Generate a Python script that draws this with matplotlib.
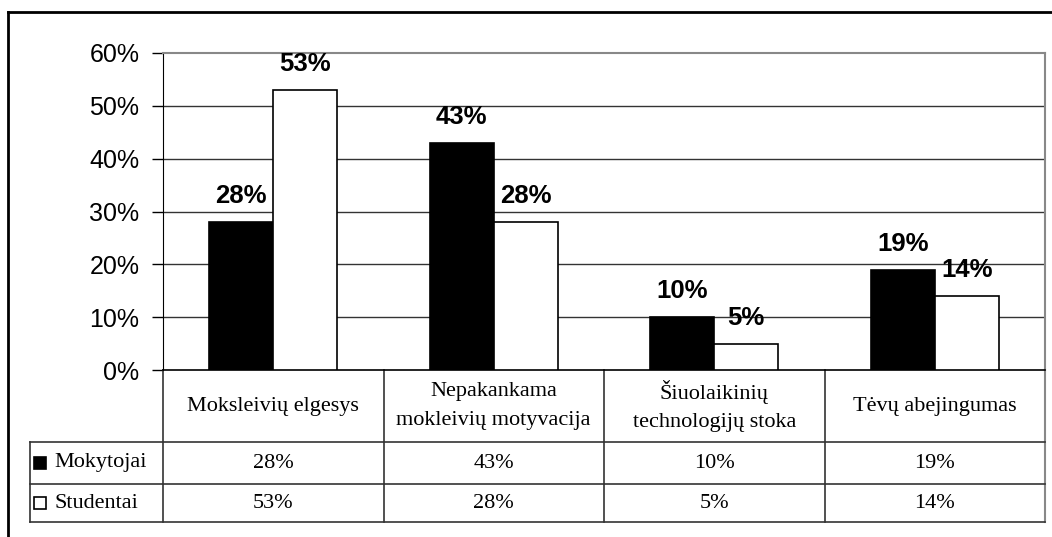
import numpy as np
import matplotlib
matplotlib.use("Agg")
import matplotlib.pyplot as plt
from matplotlib.lines import Line2D
from matplotlib.transforms import blended_transform_factory

# ---- data ----
categories = ["Moksleivių elgesys", "Nepakankama\nmokleivių motyvacija",
              "Šiuolaikinių\ntechnologijų stoka", "Tėvų abejingumas"]
series_names = ["Mokytojai", "Studentai"]
mokytojai = [28, 43, 10, 19]
studentai = [53, 28, 5, 14]
yticks = [0, 10, 20, 30, 40, 50, 60]

W, H = 1052, 537
fig = plt.figure(figsize=(W / 100, H / 100), dpi=100)

def fx(px):
    return px / W

def fy(py):
    return 1 - py / H

# plot area in pixels
L, R, T, B = 163, 1045, 53, 370
ax = fig.add_axes([fx(L), fy(B), fx(R) - fx(L), fy(T) - fy(B)])

x = np.arange(len(categories))
bw = 0.29
b1 = ax.bar(x - bw / 2, mokytojai, bw, color="black", edgecolor="black", lw=1.2, zorder=3)
b2 = ax.bar(x + bw / 2, studentai, bw, color="white", edgecolor="black", lw=1.2, zorder=3)
for bars in (b1, b2):
    ax.bar_label(bars, labels=["%d%%" % v for v in bars.datavalues], padding=10,
                 fontsize=18.5, fontweight="bold", family="Liberation Sans")

ax.set_xlim(-0.5, len(categories) - 0.5)
ax.set_ylim(0, 60)
ax.set_yticks(yticks)
ax.set_yticklabels(["%d%%" % v for v in yticks], fontsize=18, family="Liberation Sans")
ax.set_xticks([])
ax.tick_params(axis="y", length=8, width=1, pad=9, direction="out")
for v in yticks[1:-1]:
    ax.axhline(v, color="#333333", lw=1, zorder=1)
for s in ["top", "right"]:
    ax.spines[s].set_color("#888888")
    ax.spines[s].set_linewidth(1.5)
ax.spines["left"].set_color("black")
ax.spines["bottom"].set_color("black")
ax.spines["bottom"].set_linewidth(1.2)

# ---- data table under the plot ----
tr = blended_transform_factory(ax.transData, fig.transFigure)
px_per_unit = (R - L) / len(categories)
lab_left = -0.5 - (L - 30) / px_per_unit
rows_y = [370, 442, 484, 522]
line_kw = dict(color="#333333", lw=1.2, transform=tr, clip_on=False)

for i in range(len(categories) + 1):
    xb = i - 0.5
    c = "#888888" if i == len(categories) else "#333333"
    lw = 1.5 if i == len(categories) else 1.2
    ax.add_line(Line2D([xb, xb], [fy(rows_y[0]), fy(rows_y[-1])], color=c, lw=lw,
                       transform=tr, clip_on=False))
ax.add_line(Line2D([lab_left, lab_left], [fy(rows_y[1]), fy(rows_y[-1])], **line_kw))
for yy in rows_y[1:]:
    ax.add_line(Line2D([lab_left, len(categories) - 0.5], [fy(yy), fy(yy)], **line_kw))

serif = "Liberation Serif"
for i, cat in enumerate(categories):
    ax.text(i, fy((rows_y[0] + rows_y[1]) / 2), cat, transform=tr, ha="center", va="center",
            fontsize=16, family=serif, linespacing=1.65)
for r, (name, vals, fc) in enumerate(zip(series_names, [mokytojai, studentai], ["black", "white"])):
    yc = fy((rows_y[r + 1] + rows_y[r + 2]) / 2)
    for i, v in enumerate(vals):
        ax.text(i, yc, "%d%%" % v, transform=tr, ha="center", va="center",
                fontsize=16, family=serif)
    fig.add_artist(Line2D([fx(40)], [yc], marker="s", markersize=8.5, markerfacecolor=fc,
                          markeredgecolor="black", markeredgewidth=1.2, linestyle="none"))
    fig.text(fx(54), yc, name, ha="left", va="center", fontsize=16, family=serif)

# outer chart border (clipped at right and bottom)
fig.add_artist(Line2D([fx(7.5), 1], [fy(11.5), fy(11.5)], color="black", lw=2))
fig.add_artist(Line2D([fx(7.5), fx(7.5)], [fy(11.5), 0], color="black", lw=2))

fig.savefig("out.png", dpi=100)
